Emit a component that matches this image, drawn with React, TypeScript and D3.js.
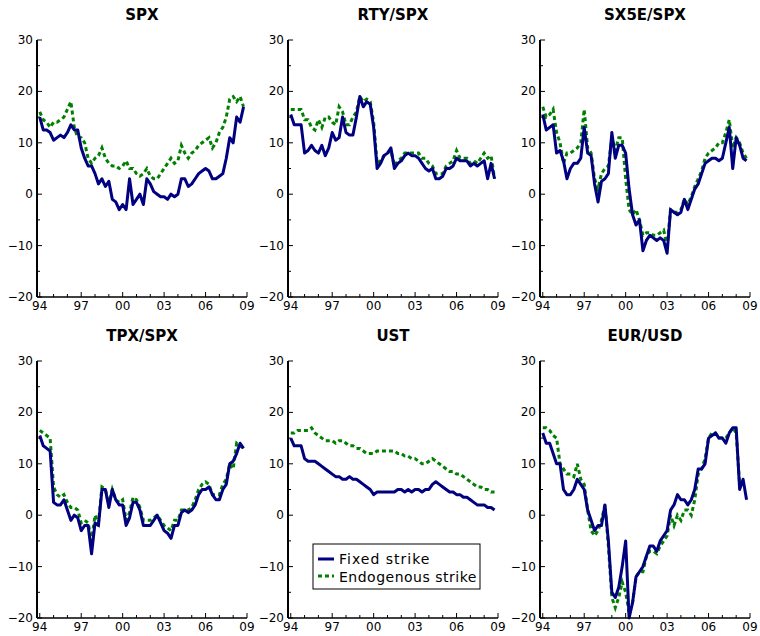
import React from "react";
import * as d3 from "d3";

// quarterly observations, 1994Q1 .. 2008Q3
const startYear = 1994;
const titles = ["SPX", "RTY/SPX", "SX5E/SPX", "TPX/SPX", "UST", "EUR/USD"];

const spxFixed = [15,12.5,12.5,12, 10.5,11,11.5,11, 12,13.5,12.5,12.5, 9,7,5.5,5.5, 4,2,3,1.5, 2.5,-1,-1.5,-3, -2,-3,3,-2, -1,0,-2,3, 2,0.5,0,-0.5, -0.5,-1,0,-0.5, 0,3,3,1.5, 2,3,4,4.5, 5,4.5,3,3, 3.5,4,7,11, 10,15,14,17];
const spxEndo = [16,14.5,14,13, 14,14,14.5,15, 16.5,18,13,11, 11,10,7,6, 7,7.5,9,7, 6,5.5,5.5,5, 5.5,6.5,5,5, 4,3.5,4,5, 3.5,3,3,4, 5,6,7,6, 6.5,9.5,8,7, 8,8.5,9.5,10, 10.5,11,9,10, 12,13,15,18.5, 19,18,19,17];
const rtyFixed = [15.5,13.5,13.5,13.5, 8,8.5,9.5,8.5, 8,9.5,7.5,9, 12,10.5,11,15, 12,11.5,11.5,15, 19,17,18,17.5, 13,5,6,7.5, 8,9,5,6, 6.5,7.5,8,7.5, 7.5,7,6,5, 4.5,5,3,3, 3.5,5,5,5.5, 7,6.5,6.5,6.5, 5.5,6,5.5,6, 6.5,3,6,3];
const rtyEndo = [16.5,16.5,16.5,16.5, 14.5,14.5,13,12.5, 14.5,13,15,15, 14,13.5,17,16, 13.5,13.5,15,16, 19,18,18.5,18, 14,6,6.5,7.5, 8,8.5,5.5,6.5, 7,8,8,8, 8,8,7,7, 6,5.5,4,4, 4,5.5,6,6.5, 8.5,7,7,7, 6,6.5,6,7, 8,7,7.5,3];
const sx5eFixed = [15.5,12.5,13,13.5, 8,8.5,6.5,3, 5,6,6,7, 13,8,7.5,2, -1.5,2.5,3,4, 12,7,9.5,9.5, 8,1,-4,-6, -5,-11,-9,-8, -8.5,-9,-8.5,-9, -11.5,-3,-3.5,-4, -3.5,-1,-3,-1, 1,2,4,6, 6.5,7,7,6.5, 7,10,13,5, 11,9.5,7,6.5];
const sx5eEndo = [17,15,15.5,16.5, 12,10,6,8, 8,8.5,9,10, 16.5,9,8,3, 1,4,5,5.5, 11,8.5,11,11, 3,-3,-4,-3, -5,-8,-7.5,-7.5, -8,-8,-7.5,-7, -10,-3,-3.5,-3.5, -3,-1,-2,-0.5, 1.5,3,4.5,7, 8,8.5,9,10, 10,12,14.5,9, 11,10,8,7];
const tpxFixed = [15.5,13.5,13,12.5, 2.5,2,2,3, 1,-1,0,-0.5, -3,-2,-2,-7.5, -1.5,-2,5,5, 1.5,5,3,2, 2,-2,-0.5,2.5, 2.5,1,-2,-2, -2,-1,0,-1.5, -3,-3.5,-4.5,-2, -2,0.5,1,0.5, 1,2,4,5, 5,5.5,4,3, 3,5,6,10, 10.5,12,14,13];
const tpxEndo = [16.5,16,15.5,15, 5.5,4,3.5,4, 2.5,1.5,1.5,1, -1.5,-1,-1.5,-5, 0,-1.5,5.5,5, 2,5,3,2.5, 3,-1,0.5,3.5, 3,1.5,-1,-1, -1,-0.5,0,-1, -2,-2.5,-3,-1, -1,1,1,1, 1.5,3,5,6, 6.5,6,4,4, 4,6,7,10, 9,14,13.5,13];
const ustFixed = [15,13.5,13.5,13.5, 11,10.5,10.5,10.5, 10,9.5,9,8.5, 8,7.5,7.5,7, 7,7.5,7,7, 6.5,6,5.5,5, 4,4.5,4.5,4.5, 4.5,4.5,4.5,5, 5,4.5,5,4.5, 5,5,4.5,5, 5,6,6.5,6, 5.5,5,4.5,4.5, 4,4,3.5,3.5, 3,2.5,2,2, 2,1.5,1.5,1];
const ustEndo = [16,16,16.5,16.5, 16.5,16.5,17,16, 15.5,15,14.5,14.5, 14.5,14,14.5,14.5, 14,13.5,13.5,13, 13,12.5,12,12, 12,12.5,12.5,12.5, 12.5,12.5,12.5,12, 12,11.5,11.5,11, 11,10.5,10,10, 10.5,11,10.5,10, 9.5,9,8.5,8.5, 8,8,7.5,7, 6.5,6,5.5,5.5, 5,5,4.5,4.5];
const eurFixed = [16,14,14,12, 10,10,5,4, 4,5,7,6, 5,1,-1,-3, -2,-2,2,-5, -15,-16,-14,-10, -5,-20,-17,-12, -11,-10,-8,-6, -6,-7,-5,-4, -3,1,2,4, 3,3,2,3, 5,9,9,10, 15,15.5,16,15, 15,14,16,17, 17,5,7,3];
const eurEndo = [17,17,16.5,15.5, 15,10,9,8, 8,7.5,10,7, 6,1,-3,-4, -3,-1,2,-6, -16,-18,-16,-13, -15,-19,-17,-12, -11,-11,-8,-7, -7,-7.5,-6,-5, -4,0,-2,0, -1,1,1,0, 3,8,9,11, 15,16,16,15, 15,15,16,17, 16,6,6,6];

const fixedSeries = [spxFixed, rtyFixed, sx5eFixed, tpxFixed, ustFixed, eurFixed];
const endoSeries = [spxEndo, rtyEndo, sx5eEndo, tpxEndo, ustEndo, eurEndo];
const yTicks = [30, 20, 10, 0, -10, -20];
const xTickYears = [1994, 1997, 2000, 2003, 2006, 2009];

const W = 760, H = 636;
const colX = [37, 288, 540];
const rowTop = [40, 361];
const pw = 210, ph = 257;
const font = "DejaVu Sans, sans-serif";

function Panel({ idx }: { idx: number }) {
  const x0 = colX[idx % 3];
  const y0 = rowTop[Math.floor(idx / 3)];
  const x = d3.scaleLinear().domain([1993.8, 2009]).range([x0, x0 + pw]);
  const y = d3.scaleLinear().domain([-20, 30]).range([y0 + ph, y0]);
  const line = d3
    .line<number>()
    .x((_, i) => x(startYear + i * 0.25))
    .y((d) => y(d));
  const minor = d3.range(-15, 30, 10);
  const years = d3.range(1994, 2010);
  return (
    <g>
      <text x={x0 + pw / 2} y={y0 - 20} textAnchor="middle" fontFamily={font} fontSize={15} fontWeight="bold">
        {titles[idx]}
      </text>
      <path d={line(endoSeries[idx]) || ""} fill="none" stroke="#008000" strokeWidth={3} strokeDasharray="4,3" />
      <path d={line(fixedSeries[idx]) || ""} fill="none" stroke="#000080" strokeWidth={3} strokeLinejoin="round" />
      <line x1={x0} x2={x0} y1={y0} y2={y0 + ph} stroke="#000" strokeWidth={2} />
      <line x1={x0} x2={x0 + pw} y1={y0 + ph} y2={y0 + ph} stroke="#000" strokeWidth={1.5} />
      {yTicks.map((t) => (
        <g key={t}>
          <line x1={x0} x2={x0 + 5} y1={y(t)} y2={y(t)} stroke="#000" />
          <text x={x0 - 4} y={y(t) + 4} textAnchor="end" fontFamily={font} fontSize={12}>
            {t < 0 ? "\u2212" + Math.abs(t) : t}
          </text>
        </g>
      ))}
      {minor.map((t) => (
        <line key={t} x1={x0} x2={x0 + 3} y1={y(t)} y2={y(t)} stroke="#000" />
      ))}
      {years.map((yr) => (
        <line key={yr} x1={x(yr)} x2={x(yr)} y1={y0 + ph} y2={y0 + ph - (xTickYears.includes(yr) ? 5 : 3)} stroke="#000" />
      ))}
      {xTickYears.map((yr) => (
        <text key={yr} x={x(yr)} y={y0 + ph + 13} textAnchor="middle" fontFamily={font} fontSize={12}>
          {String(yr % 100).padStart(2, "0")}
        </text>
      ))}
    </g>
  );
}

export default function App() {
  return (
    <svg width={W} height={H} style={{ position: "absolute", left: 0, top: 0, background: "#fff" }}>
      {titles.map((_, i) => (
        <Panel key={i} idx={i} />
      ))}
      <g fontFamily={font} fontSize={14}>
        <rect x={313} y={544} width={167} height={45} fill="#fff" stroke="#000" />
        <line x1={318} x2={334} y1={559} y2={559} stroke="#000080" strokeWidth={3} />
        <text x={339} y={564} letterSpacing={1}>Fixed strike</text>
        <line x1={318} x2={334} y1={576} y2={576} stroke="#008000" strokeWidth={3} strokeDasharray="4,3" />
        <text x={339} y={582} letterSpacing={0.5}>Endogenous strike</text>
      </g>
    </svg>
  );
}
